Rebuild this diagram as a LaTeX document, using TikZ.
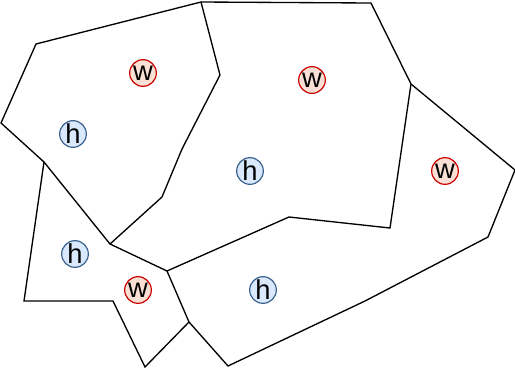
\documentclass[tikz,border=0pt]{standalone}
\usepackage{fontspec}
\setmainfont{Liberation Sans}
\usepackage{tikz}

\definecolor{wfill}{HTML}{FAE0D4}
\definecolor{wline}{HTML}{CC0000}
\definecolor{hfill}{HTML}{DAE8FC}
\definecolor{hline}{HTML}{3A6390}

\tikzset{
  wnode/.style={circle, draw=wline, fill=wfill, line width=0.9pt, minimum size=20pt, inner sep=0pt, font=\fontsize{20.5}{20.5}\selectfont},
  hnode/.style={circle, draw=hline, fill=hfill, line width=0.9pt, minimum size=20pt, inner sep=0pt, font=\fontsize{20.5}{20.5}\selectfont},
  cell/.style={line width=1pt, line join=miter}
}

\begin{document}
\begin{tikzpicture}[x=0.75pt, y=-0.75pt]
    \useasboundingbox (0,0) rectangle (515,369);
    % shared corners
    \coordinate (a) at (201,2);
    \coordinate (b) at (220,75);
    \coordinate (c) at (110,244);
    \coordinate (d) at (44,162);
    \coordinate (e) at (167,271);
    \coordinate (f) at (189,322);
    \coordinate (g) at (411,84);
    \coordinate (k) at (390,228);
    \coordinate (m) at (289,217);

    % cells
    \draw[cell] (36,44) -- (a) -- (b) -- (182,149) -- (162,197) -- (c) -- (d) -- (1,123) -- cycle;
    \draw[cell] (a) -- (371,3) -- (g) -- (k) -- (m) -- (e) -- (c);
    \draw[cell] (d) -- (24,301) -- (113,301) -- (145,367) -- (f) -- (e);
    \draw[cell] (g) -- (515,170) -- (488,237) -- (365,301) -- (228,366) -- (f);

    % sites
    \node[wnode] (w1) at (143,73) {w};
    \node[hnode] (h1) at (73,134) {h};
    \node[wnode] (w2) at (312,80) {w};
    \node[hnode] (h2) at (250,171) {h};
    \node[wnode] (w3) at (445,171) {w};
    \node[hnode] (h3) at (75,254) {h};
    \node[wnode] (w4) at (138,290) {w};
    \node[hnode] (h4) at (263,290) {h};
\end{tikzpicture}
\end{document}
